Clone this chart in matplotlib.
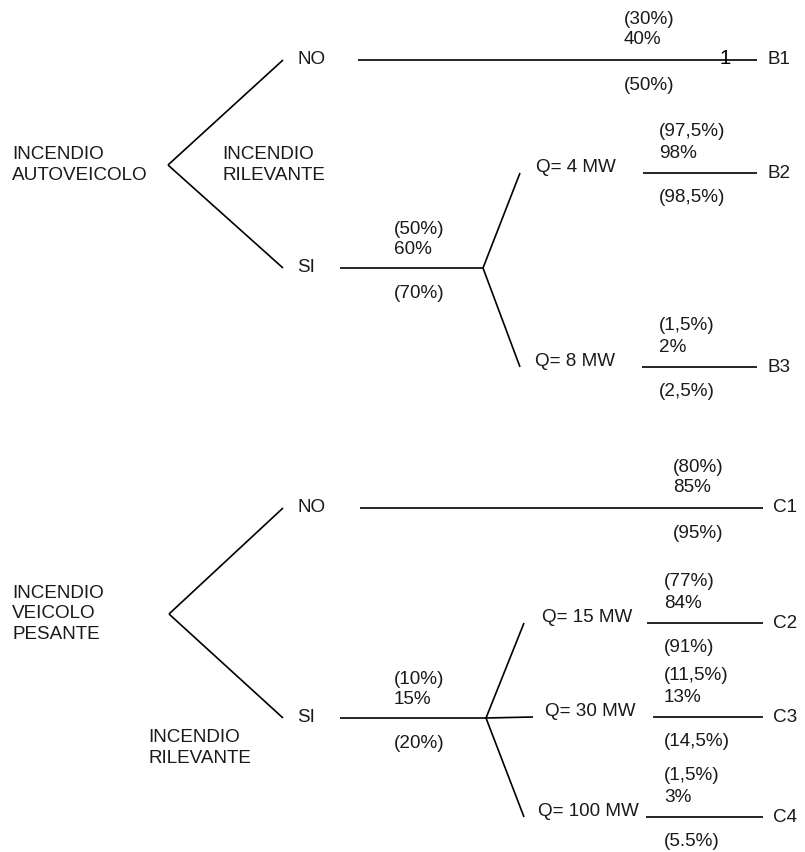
import matplotlib
matplotlib.use('Agg')
import matplotlib.pyplot as plt

# Dati dell'albero degli eventi

rami = ['NO', 'SI']
rilevante = 'INCENDIO\nRILEVANTE'

auto_titolo = 'INCENDIO\nAUTOVEICOLO'
auto_si_prob = ['(50%)', '60%', '(70%)']
auto_q = ['Q= 4 MW', 'Q= 8 MW']
auto_esiti = ['B1', 'B2', 'B3']
auto_prob = [['(30%)', '40%', '(50%)'],
             ['(97,5%)', '98%', '(98,5%)'],
             ['(1,5%)', '2%', '(2,5%)']]

pesante_titolo = 'INCENDIO\nVEICOLO\nPESANTE'
pesante_si_prob = ['(10%)', '15%', '(20%)']
pesante_q = ['Q= 15 MW', 'Q= 30 MW', 'Q= 100 MW']
pesante_esiti = ['C1', 'C2', 'C3', 'C4']
pesante_prob = [['(80%)', '85%', '(95%)'],
                ['(77%)', '84%', '(91%)'],
                ['(11,5%)', '13%', '(14,5%)'],
                ['(1,5%)', '3%', '(5.5%)']]

FS = 13.6
LW = 1.2
FONT = 'Liberation Sans'


def testo(ax, x, y, s, **kw):
    ax.text(x, y, s, fontsize=FS, family=FONT, va='center', ha='left',
            color='#1a1a1a', **kw)


def linea(ax, xs, ys):
    ax.plot(xs, ys, color='black', lw=LW, solid_capstyle='butt')


def probabilita(ax, x, y, p, dy=(-41, -20, 25)):
    for s, d in zip(p, dy):
        testo(ax, x, y + d, s)


def disegna_albero(ax, titolo, si_prob, qs, esiti, prob, lay):
    # radice e rami NO / SI
    rx, ry = lay['radice']
    testo(ax, 12, ry, titolo, linespacing=1.25)
    linea(ax, [rx, 283], [ry, lay['y_no']])
    linea(ax, [rx, 283], [ry, lay['y_si']])
    testo(ax, 297, lay['y_no'], rami[0])
    testo(ax, 297, lay['y_si'], rami[1])
    testo(ax, lay['ril'][0], lay['ril'][1], rilevante, linespacing=1.25)

    # ramo NO -> esito diretto
    linea(ax, [lay['x_no'], lay['x_fine']], [lay['y_no'], lay['y_no']])
    probabilita(ax, lay['x_p_no'], lay['y_no'], prob[0])
    testo(ax, lay['x_fine'] + 10, lay['y_no'], esiti[0])

    # ramo SI -> nodo delle potenze
    nx = lay['x_nodo']
    linea(ax, [340, nx], [lay['y_si'], lay['y_si']])
    probabilita(ax, 394, lay['y_si'], si_prob, dy=(-39, -18, 26))
    for i, q in enumerate(qs):
        yq = lay['y_q'][i]
        ex = lay['x_ram'][i]
        linea(ax, [nx, ex], [lay['y_si'], yq])
        testo(ax, lay['x_q'][i], yq - 6, q)
        x0 = lay['x_linea'][i]
        linea(ax, [x0, lay['x_fine']], [yq, yq])
        probabilita(ax, lay['x_p'][i], yq, prob[i + 1])
        testo(ax, lay['x_fine'] + 10, yq, esiti[i + 1])


fig = plt.figure(figsize=(8.05, 8.52), dpi=100)
ax = fig.add_axes([0, 0, 1, 1])
ax.set_xlim(0, 805)
ax.set_ylim(852, 0)
ax.axis('off')

lay_auto = dict(radice=(168, 165), y_no=60, y_si=268, ril=(222, 165),
                x_no=358, x_fine=757, x_p_no=624, x_nodo=483,
                y_q=[173, 367], x_ram=[520, 520], x_q=[536, 535],
                x_linea=[643, 642], x_p=[659, 659])
disegna_albero(ax, auto_titolo, auto_si_prob, auto_q, auto_esiti, auto_prob, lay_auto)
# "1" sovrapposto alla linea B1
ax.text(719, 58, '1', fontsize=FS + 1, family=FONT, va='center')

lay_pes = dict(radice=(169, 614), y_no=508, y_si=718, ril=(148, 748),
               x_no=360, x_fine=763, x_p_no=673, x_nodo=486,
               y_q=[623, 717, 817], x_ram=[524, 533, 524], x_q=[542, 545, 538],
               x_linea=[647, 653, 646], x_p=[664, 664, 664])
disegna_albero(ax, pesante_titolo, pesante_si_prob, pesante_q, pesante_esiti, pesante_prob, lay_pes)

fig.savefig('out.png', dpi=100)
